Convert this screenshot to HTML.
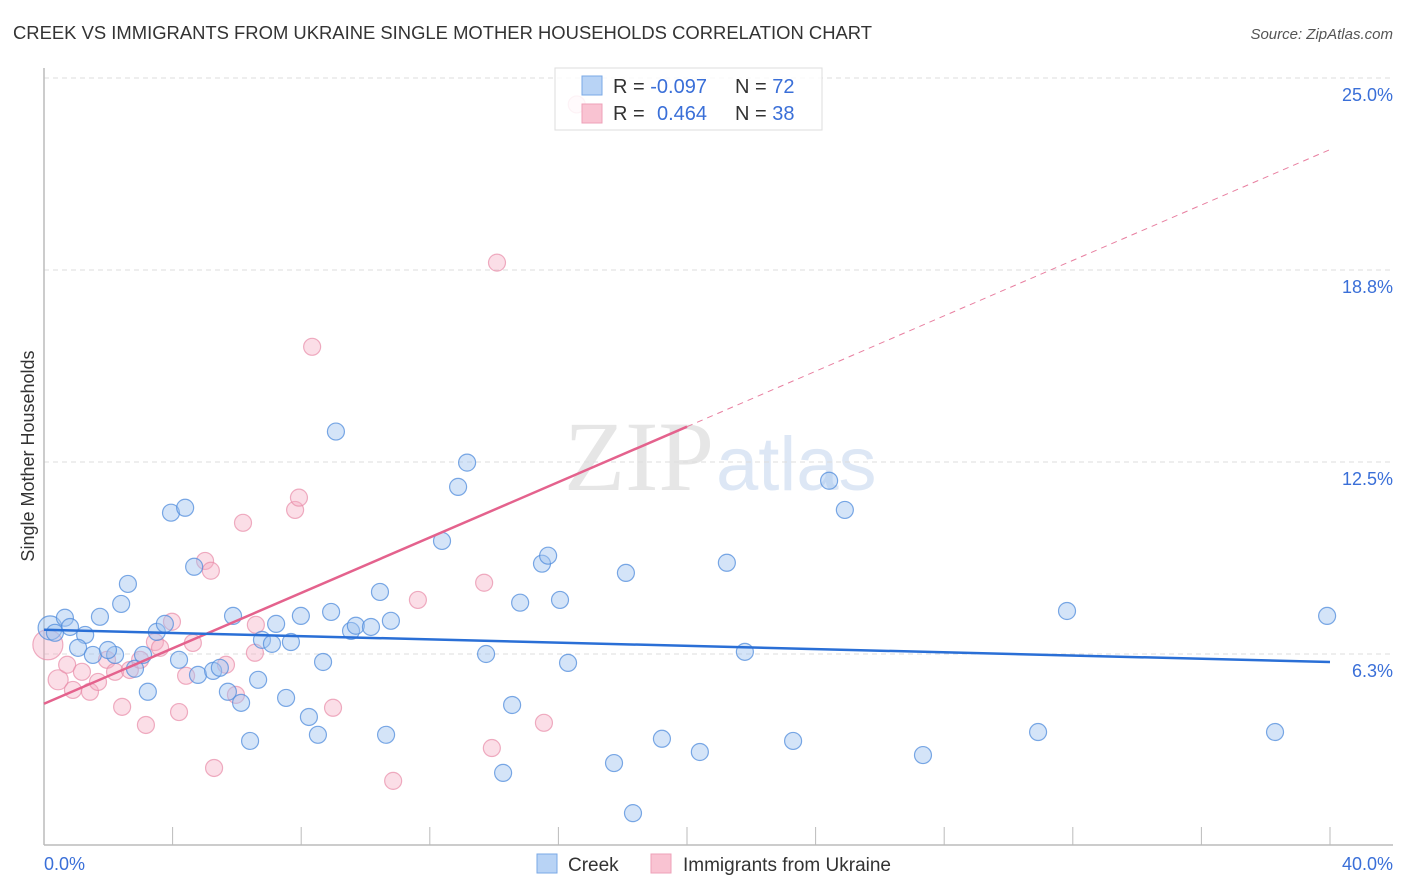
<!DOCTYPE html>
<html><head><meta charset="utf-8"><style>
body{margin:0;background:#fff;font-family:"Liberation Sans",sans-serif;}
svg{display:block}
</style></head><body>
<svg id="chart" width="1406" height="892" viewBox="0 0 1406 892">
<text x="13" y="39" font-size="18" fill="#333" textLength="859" lengthAdjust="spacingAndGlyphs">CREEK VS IMMIGRANTS FROM UKRAINE SINGLE MOTHER HOUSEHOLDS CORRELATION CHART</text>
<text x="1393" y="39" font-size="15" fill="#555" font-style="italic" text-anchor="end">Source: ZipAtlas.com</text>
<text x="714" y="490" font-size="100" fill="#e6e6e6" text-anchor="end" font-family="Liberation Serif,serif">ZIP</text>
<text x="716" y="490" font-size="76" fill="#dde7f5">atlas</text>
<g id="grid"></g>
<g id="axes"></g>
<g id="marks"></g>
<text x="34" y="456" font-size="18" fill="#333" text-anchor="middle" transform="rotate(-90 34 456)">Single Mother Households</text>
<g>
<rect x="555" y="68" width="267" height="62" fill="#fff" fill-opacity="0.85" stroke="#ddd"/>
<rect x="582" y="76" width="20" height="19" fill="#b8d3f5" stroke="#7aa8e6"/>
<rect x="582" y="104" width="20" height="19" fill="#f9c3d2" stroke="#eea0b8"/>
<text x="613" y="93" font-size="20" fill="#333">R = <tspan fill="#3a6fd8">-0.097</tspan></text>
<text x="735" y="93" font-size="20" fill="#333">N = <tspan fill="#3a6fd8">72</tspan></text>
<text x="613" y="120" font-size="20" fill="#333">R = <tspan fill="#3a6fd8" x="657">0.464</tspan></text>
<text x="735" y="120" font-size="20" fill="#333">N = <tspan fill="#3a6fd8">38</tspan></text>
</g>
<g>
<rect x="537" y="854" width="20" height="19" fill="#b8d3f5" stroke="#7aa8e6"/>
<text x="568" y="871" font-size="19" fill="#333">Creek</text>
<rect x="651" y="854" width="20" height="19" fill="#f9c3d2" stroke="#eea0b8"/>
<text x="683" y="871" font-size="19" fill="#333">Immigrants from Ukraine</text>
</g>
</svg>
<script>
const yTicks=[6.25,12.5,18.75,25];
const yTickLabels=["6.3%","12.5%","18.8%","25.0%"];
const xTickCount=10;
const creekX=[0.19,0.34,0.65,0.81,1.28,1.06,1.52,1.74,2.21,1.99,2.40,2.61,2.83,3.08,3.23,3.51,3.76,3.95,4.39,4.20,4.67,4.79,5.26,5.47,5.72,5.88,6.13,6.41,6.66,6.78,7.09,7.22,7.53,7.68,7.99,8.24,8.52,8.68,8.93,9.08,9.55,9.70,10.17,10.45,10.64,10.79,12.38,12.88,13.16,13.75,14.28,14.56,14.81,15.49,15.68,16.05,16.30,17.73,18.10,18.32,19.22,20.40,21.24,21.80,23.30,24.42,24.91,27.34,30.92,31.82,38.29,39.91];
const creekY=[7.10,6.94,7.43,7.13,6.87,6.45,6.22,7.46,6.22,6.38,7.88,8.53,5.77,6.22,5.02,6.97,7.23,10.85,11.01,6.06,9.09,5.57,5.70,5.80,5.02,7.49,4.66,3.42,5.41,6.71,6.58,7.23,4.82,6.64,7.49,4.20,3.62,5.99,7.62,13.49,7.00,7.17,7.13,8.27,3.62,7.33,9.93,11.69,12.48,6.25,2.38,4.59,7.92,9.19,9.45,8.01,5.96,2.70,8.89,1.07,3.49,3.06,9.22,6.32,3.42,11.89,10.94,2.96,3.71,7.65,3.71,7.49];
const ukrX=[0.12,0.44,0.72,0.90,1.18,1.43,1.68,1.96,2.21,2.43,2.67,2.99,3.17,3.45,3.61,3.98,4.20,4.42,4.63,5.01,5.19,5.29,5.66,5.97,6.19,6.59,6.56,7.81,7.93,8.34,8.99,10.86,11.63,13.69,13.93,14.09,15.55,16.57];
const ukrY=[6.55,5.41,5.90,5.08,5.67,5.02,5.34,6.06,5.67,4.53,5.73,6.06,3.94,6.64,6.45,7.30,4.36,5.54,6.61,9.28,8.96,2.54,5.90,4.92,10.52,7.20,6.29,10.94,11.34,16.25,4.50,2.12,8.01,8.57,3.19,18.99,4.01,24.14];
const creekTrend=[7.04,5.99];
const ukrTrend=[4.63,22.67];
const ukrSolidEnd=20;

const NS="http://www.w3.org/2000/svg";
const X0=44,X1=1330,Y0=846,YS=30.72;
const sx=v=>X0+v/40*(X1-X0);
const sy=v=>Y0-v*YS;
function mk(tag,attrs,parent){const e=document.createElementNS(NS,tag);for(const k in attrs)e.setAttribute(k,attrs[k]);parent.appendChild(e);return e;}
const grid=document.getElementById('grid'),axes=document.getElementById('axes'),marks=document.getElementById('marks');
yTicks.forEach((t,i)=>{
  const l=mk('line',{x1:44,x2:1393,y1:sy(t),y2:sy(t),stroke:'#ddd','stroke-dasharray':'5,4'},grid);
  
  
  const tx=mk('text',{x:1393,y:sy(t)+23,'font-size':18,fill:'#3a6fd8','text-anchor':'end'},axes);
  tx.textContent=yTickLabels[i];
  
  
});
const xa=mk('line',{x1:44,x2:1393,y1:845,y2:845,stroke:'#bbb','stroke-width':1.5},axes);


const ya=mk('line',{x1:44,x2:44,y1:68,y2:845,stroke:'#bbb','stroke-width':1.5},axes);


for(let i=1;i<=xTickCount;i++){
  const x=sx(i*40/xTickCount);
  const t=mk('line',{x1:x,x2:x,y1:827,y2:845,stroke:'#bbb'},axes);
  
  
}
const xl0=mk('text',{x:44,y:870,'font-size':18,fill:'#3a6fd8'},axes);xl0.textContent='0.0%';


const xl1=mk('text',{x:1393,y:870,'font-size':18,fill:'#3a6fd8','text-anchor':'end'},axes);xl1.textContent='40.0%';



ukrX.forEach((v,i)=>{
  const r=i===0?15:(i===1?10:8.5);
  const c=mk('circle',{cx:sx(v),cy:sy(ukrY[i]),r:r,fill:'rgba(246,172,194,0.4)',stroke:'rgba(232,140,168,0.7)','stroke-width':1.2},marks);
  
  
});
creekX.forEach((v,i)=>{
  const r=i===0?12:8.5;
  const c=mk('circle',{cx:sx(v),cy:sy(creekY[i]),r:r,fill:'rgba(160,196,240,0.45)',stroke:'rgba(80,140,220,0.75)','stroke-width':1.2},marks);
  
  
});
const ufy=x=>ukrTrend[0]+(ukrTrend[1]-ukrTrend[0])*x/40;
const ud=mk('line',{x1:sx(ukrSolidEnd),y1:sy(ufy(ukrSolidEnd)),x2:sx(40),y2:sy(ufy(40)),stroke:'#e87fa0','stroke-width':1,'stroke-dasharray':'6,5'},marks);


const us=mk('line',{x1:sx(0),y1:sy(ufy(0)),x2:sx(ukrSolidEnd),y2:sy(ufy(ukrSolidEnd)),stroke:'#e4628d','stroke-width':2.5},marks);


const cl=mk('line',{x1:sx(0),y1:sy(creekTrend[0]),x2:sx(40),y2:sy(creekTrend[1]),stroke:'#2a6fd6','stroke-width':2.5},marks);


</script>
</body></html>
